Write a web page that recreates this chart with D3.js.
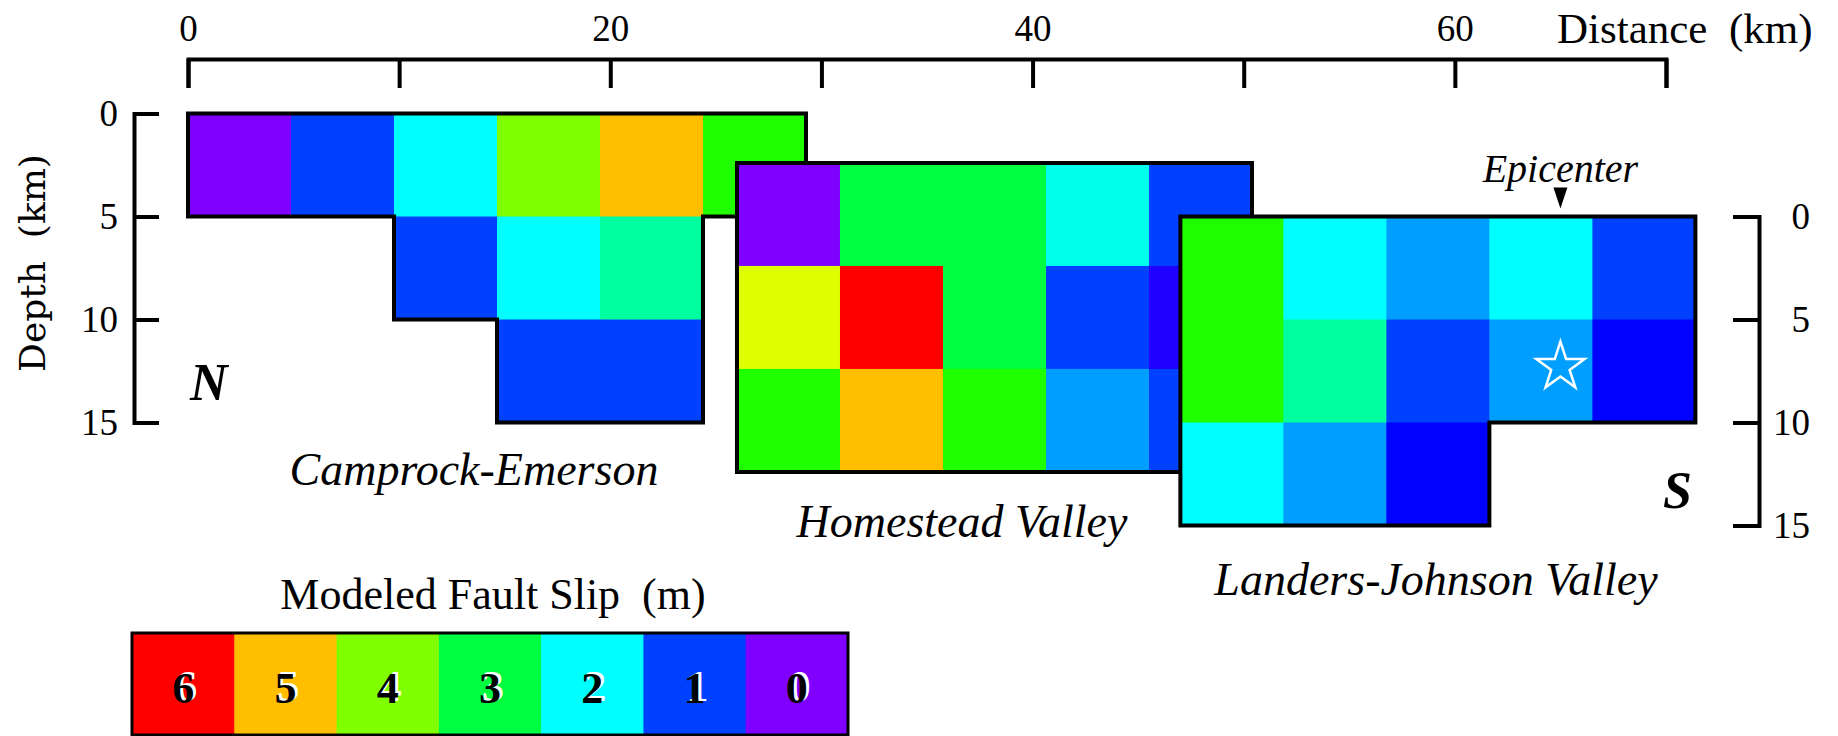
<!DOCTYPE html>
<html>
<head>
<meta charset="utf-8">
<script src="https://cdn.jsdelivr.net/npm/d3@7"></script>
<style>
  body { margin: 0; background: #fff; }
  svg { display: block; font-family: 'Liberation Serif', 'Times New Roman', serif; }
  .axis .domain, .axis line { stroke: #000; stroke-width: 4; fill: none; }
  .axis text { font-family: 'Liberation Serif', serif; font-size: 37px; fill: #000; }
</style>
</head>
<body>
<div id="chart"></div>
<script>
// Fault segments, north to south.
var segmentNames = ['Camprock-Emerson', 'Homestead Valley', 'Landers-Johnson Valley'];
var segmentStartKm = [0, 26, 47];   // along-strike start of first column
var segmentTopKm = [0, 2.4, 5];     // top of panel, on the left depth axis

// Slip per patch (m), rows top to bottom; null = no patch.
var camprockSlip = [
    [0, 1, 2, 4, 5, 3.5],
    [null, null, 1, 2, 2.5, null],
    [null, null, null, 1, 1, null]
];
var homesteadSlip = [
    [0, 3, 3, 2.1, 1],
    [4.5, 6, 3, 1, 0.5],
    [3.5, 5, 3.5, 1.5, 1]
];
var landersSlip = [
    [3.5, 2, 1.5, 2, 1],
    [3.5, 2.5, 1, 1.5, 0.67],
    [2, 1.5, 0.67, null, null]
];
var slipData = [camprockSlip, homesteadSlip, landersSlip];

var distanceTicks = [0, 10, 20, 30, 40, 50, 60, 70];
var distanceLabels = [0, 20, 40, 60];
var depthTicks = [0, 5, 10, 15];
var legendValues = [6, 5, 4, 3, 2, 1, 0];
var epicenterKm = 65;
var hypocenterDepthKm = 7.3;   // on the right depth axis

var W = 1838, H = 736;

var svg = d3.select('#chart').append('svg')
    .attr('width', W)
    .attr('height', H);

var x = d3.scaleLinear().domain([0, 70]).range([188, 1666]);
var yLeft = d3.scaleLinear().domain([0, 15]).range([113.5, 422.5]);
var yRight = d3.scaleLinear().domain([0, 15]).range([yLeft(5), yLeft(20)]);
var cell = yLeft(5) - yLeft(0);

// Slip -> hue, violet (0 m) through red (6 m).
var hue = d3.scaleLinear().domain([0, 6]).range([270, 0]);
function slipColor(v) { return d3.hsl(hue(v), 1, 0.5).formatHex(); }

// Distance axis along the top.
var xAxis = d3.axisTop(x)
    .tickValues(distanceTicks)
    .tickSizeInner(-29).tickSizeOuter(-29)
    .tickPadding(18)
    .tickFormat(function(d) { return distanceLabels.indexOf(d) >= 0 ? d : ''; });

svg.append('g')
    .attr('class', 'axis')
    .attr('transform', 'translate(0,59)')
    .call(xAxis);

svg.append('text')
    .attr('x', 1557).attr('y', 43)
    .style('white-space', 'pre')
    .attr('font-size', 43)
    .text('Distance  (km)');

// Depth axes.
svg.append('g')
    .attr('class', 'axis')
    .attr('transform', 'translate(134,0)')
    .call(d3.axisLeft(yLeft).tickValues(depthTicks)
        .tickSizeInner(-25).tickSizeOuter(-25).tickPadding(16));

svg.append('g')
    .attr('class', 'axis')
    .attr('transform', 'translate(1759,0)')
    .call(d3.axisRight(yRight).tickValues(depthTicks)
        .tickSizeInner(-26).tickSizeOuter(-26))
  .selectAll('text')
    .attr('x', 51)
    .attr('text-anchor', 'end');

svg.append('text')
    .attr('transform', 'translate(45,263) rotate(-90)')
    .attr('text-anchor', 'middle')
    .attr('font-family', "'DejaVu Serif', serif")
    .attr('font-size', 36)
    .style('white-space', 'pre')
    .text('Depth  (km)');

// Slip panels; later segments sit on top of earlier ones.
slipData.forEach(function(grid, s) {
    var x0 = x(segmentStartKm[s]), y0 = yLeft(segmentTopKm[s]);
    var col = d3.scaleLinear().domain([0, 1]).range([x0, x0 + cell]);
    var row = d3.scaleLinear().domain([0, 1]).range([y0, y0 + cell]);

    var cells = [];
    grid.forEach(function(r, i) {
        r.forEach(function(v, j) { if (v != null) cells.push({r: i, c: j, v: v}); });
    });
    function has(i, j) { return grid[i] != null && grid[i][j] != null; }

    var g = svg.append('g').attr('class', 'segment');

    g.selectAll('rect')
        .data(cells)
      .enter().append('rect')
        .attr('x', function(d) { return col(d.c); })
        .attr('y', function(d) { return row(d.r); })
        .attr('width', cell + 0.6)
        .attr('height', cell + 0.6)
        .attr('fill', function(d) { return slipColor(d.v); });

    // Outline = every patch edge with no neighbour.
    var p = d3.path();
    cells.forEach(function(d) {
        var l = col(d.c), r = col(d.c + 1), t = row(d.r), b = row(d.r + 1);
        if (!has(d.r - 1, d.c)) { p.moveTo(l, t); p.lineTo(r, t); }
        if (!has(d.r + 1, d.c)) { p.moveTo(l, b); p.lineTo(r, b); }
        if (!has(d.r, d.c - 1)) { p.moveTo(l, t); p.lineTo(l, b); }
        if (!has(d.r, d.c + 1)) { p.moveTo(r, t); p.lineTo(r, b); }
    });
    g.append('path')
        .attr('d', p.toString())
        .attr('fill', 'none')
        .attr('stroke', '#000')
        .attr('stroke-width', 4)
        .attr('stroke-linecap', 'square');
});

// Segment names.
var namePos = [[474, 485], [962, 537], [1436, 595]];
svg.selectAll('.seg-name')
    .data(segmentNames)
  .enter().append('text')
    .attr('class', 'seg-name')
    .attr('x', function(d, i) { return namePos[i][0]; })
    .attr('y', function(d, i) { return namePos[i][1]; })
    .attr('text-anchor', 'middle')
    .attr('font-size', 46)
    .attr('font-style', 'italic')
    .text(function(d) { return d; });

svg.append('text')
    .attr('x', 190).attr('y', 400)
    .attr('font-size', 52).attr('font-weight', 'bold').attr('font-style', 'italic')
    .text('N');
svg.append('text')
    .attr('x', 1663).attr('y', 508)
    .attr('font-size', 52).attr('font-weight', 'bold').attr('font-style', 'italic')
    .text('S');

// Epicenter marker and hypocenter star.
var ex = x(epicenterKm), etip = yRight(0) - 8;
svg.append('path')
    .attr('d', 'M' + (ex - 7) + ',' + (etip - 21) + 'H' + (ex + 7) + 'L' + ex + ',' + etip + 'Z')
    .attr('fill', '#000');
svg.append('text')
    .attr('x', ex).attr('y', 182)
    .attr('text-anchor', 'middle')
    .attr('font-size', 40)
    .attr('font-style', 'italic')
    .text('Epicenter');

svg.append('path')
    .attr('transform', 'translate(' + x(epicenterKm) + ',' + yRight(hypocenterDepthKm) + ')')
    .attr('d', d3.symbol(d3.symbolStar).size(720)())
    .attr('fill', 'none')
    .attr('stroke', '#fff')
    .attr('stroke-width', 2.5);

// Colour legend.
var lx = d3.scaleBand().domain(legendValues).range([132, 848]);
var legendTop = 633, legendH = 102;
var legend = svg.append('g').attr('class', 'legend');

legend.selectAll('rect')
    .data(legendValues)
  .enter().append('rect')
    .attr('x', function(d) { return lx(d); })
    .attr('y', legendTop)
    .attr('width', lx.bandwidth() + 0.6)
    .attr('height', legendH)
    .attr('fill', function(d) { return slipColor(d); });

legend.append('rect')
    .attr('x', 132).attr('y', legendTop)
    .attr('width', 716).attr('height', legendH)
    .attr('fill', 'none')
    .attr('stroke', '#000')
    .attr('stroke-width', 3);

[['#fff', 3, -2], ['#000', 0, 0]].forEach(function(s) {
    legend.selectAll(null)
        .data(legendValues)
      .enter().append('text')
        .attr('x', function(d) { return lx(d) + lx.bandwidth() / 2 + s[1]; })
        .attr('y', 703 + s[2])
        .attr('text-anchor', 'middle')
        .attr('font-size', 44)
        .attr('font-weight', 'bold')
        .attr('fill', s[0])
        .text(function(d) { return d; });
});

legend.append('text')
    .attr('x', 493).attr('y', 609)
    .attr('text-anchor', 'middle')
    .attr('font-size', 44)
    .style('white-space', 'pre')
    .text('Modeled Fault Slip  (m)');
</script>
</body>
</html>
